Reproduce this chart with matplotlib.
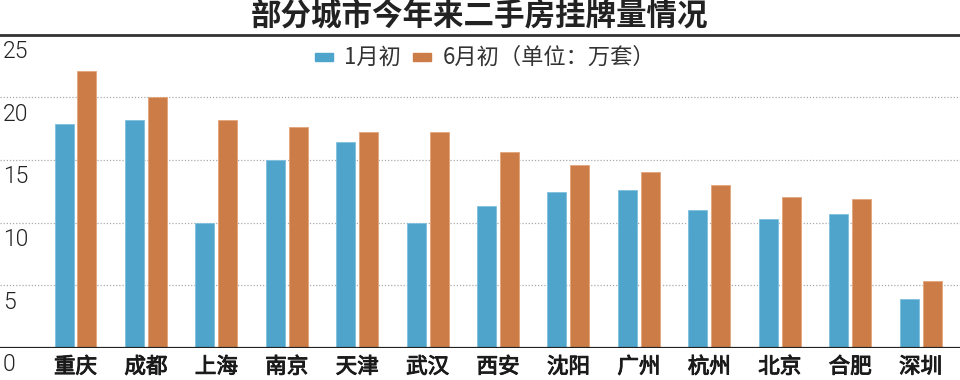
import matplotlib
matplotlib.use("Agg")
import matplotlib.pyplot as plt
import matplotlib.transforms as mtransforms
import matplotlib.patheffects as pe
from matplotlib.patches import Rectangle
import numpy as np

plt.rcParams['font.family'] = ['Noto Sans CJK SC', 'DejaVu Sans']

cities = ["重庆", "成都", "上海", "南京", "天津", "武汉", "西安", "沈阳", "广州", "杭州", "北京", "合肥", "深圳"]
jan = [17.9, 18.2, 10.0, 15.0, 16.4, 10.0, 11.3, 12.4, 12.6, 11.0, 10.3, 10.7, 3.9]
jun = [22.1, 20.0, 18.2, 17.6, 17.2, 17.2, 15.6, 14.6, 14.0, 13.0, 12.0, 11.9, 5.3]
yticks = [0, 5, 10, 15, 20, 25]
title = "部分城市今年来二手房挂牌量情况"
legend_labels = ["1月初", "6月初（单位：万套）"]

blue = "#4ea4cb"
orange = "#cc7d47"

fig = plt.figure(figsize=(9.6, 3.8), dpi=100)
ax = fig.add_axes([0, 32.3 / 380, 1, 313 / 380])

x = np.arange(len(cities))
w = 0.27
off = 0.163
ax.bar(x - off, jan, width=w, color=blue, edgecolor="#7fc0de", linewidth=0.6, zorder=3)
ax.bar(x + off, jun, width=w, color=orange, edgecolor="#e3a57a", linewidth=0.6, zorder=3)

ax.set_xlim(-1.072, 12.56)
ax.set_ylim(0, 25)

for s in ax.spines.values():
    s.set_visible(False)

# gridlines
for t in yticks[1:-1]:
    ax.axhline(t, color="#aaaaaa", linestyle=(0, (1, 1.5)), linewidth=0.9, zorder=1)
ax.axhline(0, color="#222222", linewidth=1.6, zorder=4)
ax.axhline(25, color="#333333", linewidth=2.0, zorder=4, clip_on=False)

# y tick labels, placed just below each gridline
ax.set_yticks([])
lab_tr = ax.get_yaxis_transform() + mtransforms.ScaledTranslation(0, -5.5 / 100, fig.dpi_scale_trans)
for t in yticks:
    ax.text(0.003, t, str(t), transform=lab_tr, ha="left", va="top",
            fontsize=16.5, color="#222222", fontweight=300, family=["Roboto", "DejaVu Sans"])

ax.set_xticks(x)
ax.set_xticklabels(cities, fontsize=15.5, color="#1a1a1a")
for lbl in ax.get_xticklabels():
    lbl.set_path_effects([pe.withStroke(linewidth=0.7, foreground="#1a1a1a")])
ax.tick_params(axis="x", length=0, pad=6)

# title
fig.text(0.5, 1 - 16 / 380, title, ha="center", va="center", fontsize=22, fontweight="bold", color="#222222")

# legend
ly = 1 - 57 / 380
fig.patches.append(Rectangle((315 / 960, ly - 4 / 380), 18 / 960, 8 / 380, transform=fig.transFigure,
                             color=blue, figure=fig))
fig.text(344 / 960, ly, legend_labels[0], ha="left", va="center", fontsize=16, color="#333333")
fig.patches.append(Rectangle((413 / 960, ly - 4 / 380), 18 / 960, 8 / 380, transform=fig.transFigure,
                             color=orange, figure=fig))
fig.text(443 / 960, ly, legend_labels[1], ha="left", va="center", fontsize=16, color="#333333")

fig.savefig("out.png", dpi=100)
